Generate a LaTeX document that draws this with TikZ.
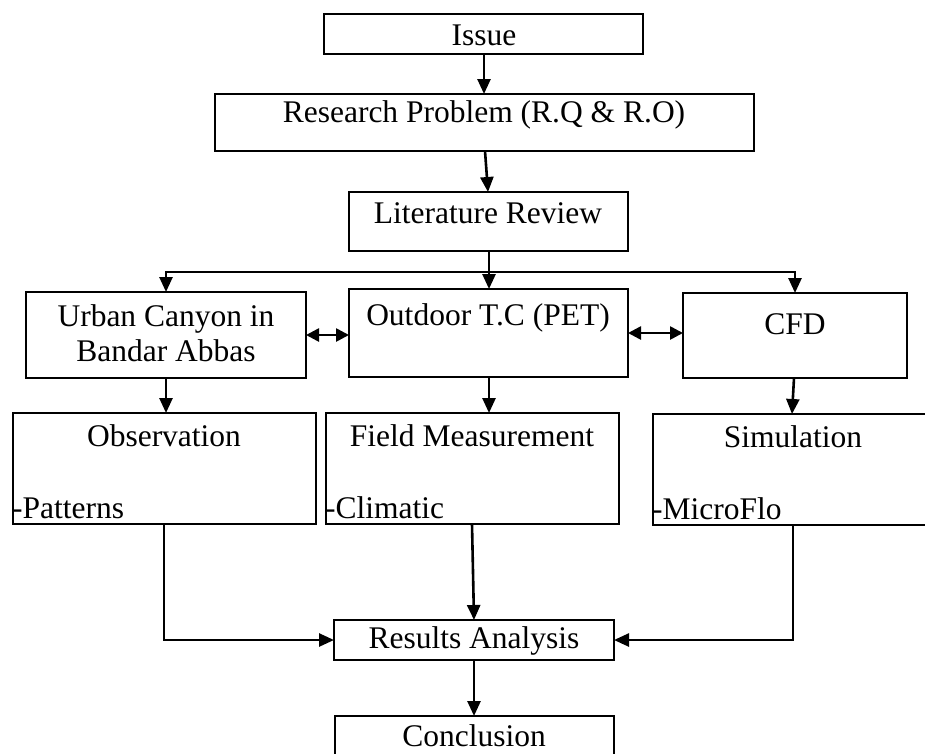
\documentclass[tikz,border=0pt]{standalone}
\usepackage{fontspec}
\setmainfont{Liberation Serif}
\usetikzlibrary{arrows.meta}
\begin{document}
\begin{tikzpicture}[x=1pt,y=-1pt,
  box/.style={draw=black,line width=2pt,fill=white},
  txt/.style={inner sep=0pt,font=\fontsize{31.5}{35}\selectfont,align=center},
  ltxt/.style={inner sep=0pt,font=\fontsize{31.5}{35}\selectfont,anchor=west},
  arr/.style={line width=2.6pt,-{Triangle[length=15pt,width=13pt]}},
  darr/.style={line width=2.6pt,{Triangle[length=13pt,width=13pt]}-{Triangle[length=13pt,width=13pt]}},
  ln/.style={line width=2.6pt}]
\fill[white] (0,0) rectangle (925,753);
\useasboundingbox (0,0) rectangle (925,753);
% boxes
\draw[box] (324,14) rectangle (643,54);
\coordinate (issueS) at (484,54);
\draw[box] (215,94) rectangle (754,151);
\coordinate (rpN) at (484,94); \coordinate (rpS) at (485,151);
\draw[box] (349,192) rectangle (628,251);
\coordinate (lrN) at (488,192); \coordinate (lrS) at (489,251);
\draw[box] (26,292) rectangle (306,378);
\draw[box] (349,289) rectangle (628,377);
\draw[box] (683,293) rectangle (907,378);
\draw[box] (13,413) rectangle (316,524);
\draw[box] (326,413) rectangle (619,524);
\draw[box] (653,414) rectangle (935,525);
\draw[box] (334,620) rectangle (614,660);
\draw[box] (335,716) rectangle (614,770);
% texts
\node[txt] (tissue) at (484,35) {Issue};
\node[txt] (trp) at (484,115) {Research Problem (R.Q \& R.O)};
\node[txt] (tlr) at (488,213) {Literature Review};
\node[txt] (turban) at (166,333) {Urban Canyon in\\Bandar Abbas};
\node[txt] (tout) at (488,318) {Outdoor T.C (PET)};
\node[txt] (tcfd) at (795,324) {CFD};
\node[txt] (tobs) at (164,436) {Observation};
\node[ltxt] (tpat) at (12,508) {-Patterns};
\node[txt] (tfield) at (472,436) {Field Measurement};
\node[ltxt] (tclim) at (325,508) {-Climatic};
\node[txt] (tsim) at (793,437) {Simulation};
\node[ltxt] (tmic) at (652,509) {-MicroFlo};
\node[txt] (tres) at (474,641) {Results Analysis};
\node[txt] (tcon) at (474,736) {Conclusion};
% named anchor points
\coordinate (urbN) at (166,292); \coordinate (urbS) at (166,378); \coordinate (urbE) at (306,335);
\coordinate (outN) at (489,289); \coordinate (outS) at (489,377);
\coordinate (outW) at (349,335); \coordinate (outE) at (628,333);
\coordinate (cfdN) at (795,293); \coordinate (cfdS) at (794,378); \coordinate (cfdW) at (683,333);
\coordinate (obsN) at (166,413); \coordinate (obsS) at (164,524);
\coordinate (fldN) at (489,413); \coordinate (fldS) at (472,524);
\coordinate (simN) at (792,414); \coordinate (simS) at (793,525);
\coordinate (resN) at (474,620); \coordinate (resS) at (474,660);
\coordinate (resW) at (334,640); \coordinate (resE) at (614,640);
\coordinate (conN) at (474,716);
\coordinate (busL) at (166,272); \coordinate (busM) at (489,272); \coordinate (busR) at (795,272);
% connectors
\draw[arr] (issueS) -- (rpN);
\draw[arr] (rpS) -- (lrN);
\draw[ln] (lrS) -- (busM);
\draw[ln,line cap=rect] (busL) -- (busR);
\draw[arr] (busL) -- (urbN);
\draw[arr] (busM) -- (outN);
\draw[arr] (busR) -- (cfdN);
\draw[darr] (urbE) -- (outW);
\draw[darr] (outE) -- (cfdW);
\draw[arr] (urbS) -- (obsN);
\draw[arr] (outS) -- (fldN);
\draw[arr] (cfdS) -- (simN);
\draw[arr] (obsS) |- (resW);
\draw[arr] (fldS) -- (resN);
\draw[arr] (simS) |- (resE);
\draw[arr] (resS) -- (conN);
\end{tikzpicture}
\end{document}
